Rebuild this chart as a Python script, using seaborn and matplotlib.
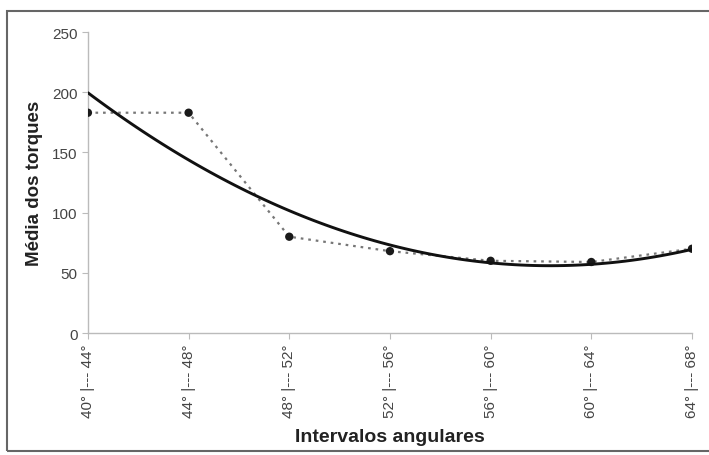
import matplotlib
matplotlib.use("Agg")
import matplotlib.pyplot as plt
import seaborn as sns
import pandas as pd
from matplotlib.patches import Rectangle

intervalos = ["40° |--- 44°", "44° |--- 48°", "48° |--- 52°", "52° |--- 56°",
              "56° |--- 60°", "60° |--- 64°", "64° |--- 68°"]
media_torques = [183, 183, 80, 68, 60, 59, 70]
posicao = list(range(len(intervalos)))

df = pd.DataFrame({"pos": posicao, "torque": media_torques})

sns.set_style("white")
plt.rcParams['font.family'] = ['Liberation Sans', 'DejaVu Sans']

fig = plt.figure(figsize=(7.09, 4.56), dpi=100)
ax = fig.add_axes([0.124, 0.2675, 0.852, 0.660])

# linha pontilhada ligando as médias
sns.lineplot(data=df, x="pos", y="torque", ax=ax, color="#777777",
             linestyle=(0, (1.2, 2.2)), linewidth=1.6, zorder=2)
sns.scatterplot(data=df, x="pos", y="torque", ax=ax, color="#1a1a1a",
                s=36, edgecolor="none", zorder=3)
# linha de tendência polinomial (ordem 2)
sns.regplot(data=df, x="pos", y="torque", ax=ax, order=2, ci=None,
            scatter=False, truncate=True,
            line_kws={"color": "#111111", "linewidth": 2.1, "zorder": 4})

ax.set_xlim(0, 6)
ax.set_ylim(0, 250)
ax.set_yticks(range(0, 251, 50))
ax.set_xticks(posicao)
ax.set_xticklabels(intervalos, rotation=90, fontsize=11, color="#444444")
ax.tick_params(axis="y", labelsize=11, labelcolor="#444444")
ax.tick_params(axis="both", direction="out", length=4, width=0.8,
               color="#bbbbbb", bottom=True, left=True)

for side in ["top", "right"]:
    ax.spines[side].set_visible(False)
for side in ["left", "bottom"]:
    ax.spines[side].set_color("#bbbbbb")
    ax.spines[side].set_linewidth(1.0)

ax.set_ylabel("Média dos torques", fontsize=13.5, fontweight="bold",
              color="#222222")
ax.yaxis.set_label_coords(-0.075, 0.5)
ax.set_xlabel("Intervalos angulares", fontsize=14, fontweight="bold",
              color="#222222")
ax.xaxis.set_label_coords(0.5, -0.315)

# moldura externa
fig.patches.append(Rectangle((7 / 709, 4 / 456), 1.2, 1 - 16 / 456,
                             transform=fig.transFigure, fill=False,
                             edgecolor="#666666", linewidth=1.5))

fig.savefig("out.png", dpi=100)
